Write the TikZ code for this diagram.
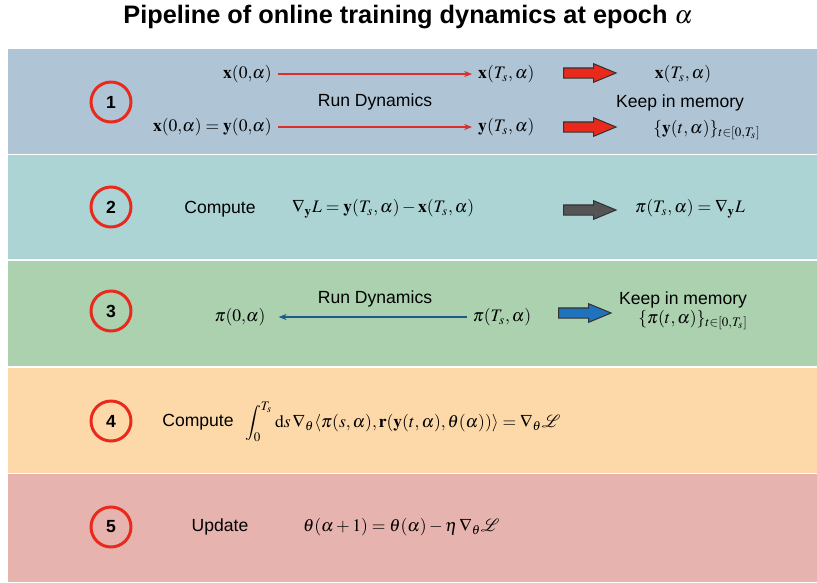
\documentclass[tikz,border=0pt]{standalone}
\usepackage{amsmath}
\usepackage{amssymb}
\usepackage{mathptmx}
\usepackage{mathrsfs}
\usepackage[no-math]{fontspec}
\setmainfont{Liberation Sans}
\usepackage{tikz}
\usetikzlibrary{shapes,arrows.meta,positioning}

\definecolor{bandA}{HTML}{AFC5D6}
\definecolor{bandB}{HTML}{ADD4D4}
\definecolor{bandC}{HTML}{ABD1AF}
\definecolor{bandD}{HTML}{FDD9A9}
\definecolor{bandE}{HTML}{E6B3AE}
\definecolor{stepred}{HTML}{E8291C}
\definecolor{flowred}{HTML}{D9302A}
\definecolor{flowblue}{HTML}{1C5A8C}
\definecolor{bigblue}{HTML}{1E72BE}
\definecolor{biggrey}{HTML}{555555}

\tikzset{
  stepnum/.style={circle, draw=stepred, line width=1.7pt, minimum size=0.8cm, inner sep=0pt, font=\bfseries},
  bigarrow/.style={single arrow, draw=black!80, line width=0.6pt, minimum height=1.05cm, inner xsep=0pt, inner ysep=0.09cm, single arrow head extend=0.085cm, single arrow tip angle=45, anchor=west},
  flow/.style={-{Stealth[length=4.5pt, width=3.5pt]}, line width=0.6pt}
}

\begin{document}
\begin{tikzpicture}[x=0.02cm, y=-0.02cm]
\useasboundingbox (0,0) rectangle (817,582);

\fill [bandA] (8,49) rectangle (817,154);
\fill [bandB] (8,155) rectangle (817,259);
\fill [bandC] (8,261) rectangle (817,366);
\fill [bandD] (8,368) rectangle (817,473);
\fill [bandE] (8,474) rectangle (817,582);

\node (title) at (408,17) {\Large\bfseries Pipeline of online training dynamics at epoch $\alpha$};

\node [stepnum] (s_a) at (111,102) {1};
\node [stepnum] (s_b) at (111,207) {2};
\node [stepnum] (s_c) at (111,311) {3};
\node [stepnum] (s_d) at (111,421) {4};
\node [stepnum] (s_e) at (111,527) {5};

\node [anchor=east] (x_0) at (278,74) {$\mathbf{x}(0{,}\alpha)$};
\node [anchor=west] (x_T) at (472,74) {$\mathbf{x}(T_s,\alpha)$};
\node [bigarrow, fill=stepred] (big_a) at (563,73) {};
\node (x_keep) at (683,74) {$\mathbf{x}(T_s,\alpha)$};
\node (run_a) at (375,102) {Run Dynamics};
\node (keep_a) at (680,103) {Keep in memory};
\node [anchor=east] (xy_0) at (278,127) {$\mathbf{x}(0{,}\alpha)=\mathbf{y}(0{,}\alpha)$};
\node [anchor=west] (y_T) at (472,127) {$\mathbf{y}(T_s,\alpha)$};
\node [bigarrow, fill=stepred] (big_b) at (563,127) {};
\node (y_keep) at (707,130) {$\{\mathbf{y}(t,\alpha)\}_{t\in[0,T_s]}$};
\draw [flow, flowred] (x_0) -- (x_T);
\draw [flow, flowred] (xy_0) -- (y_T);

\node (comp_b) at (220,209) {Compute};
\node [anchor=west] (grad_b) at (286,209) {$\nabla_{\mathbf{y}} L = \mathbf{y}(T_s,\alpha) - \mathbf{x}(T_s,\alpha)$};
\node [bigarrow, fill=biggrey] (big_c) at (563,210) {};
\node [anchor=west] (pi_T) at (629,209) {$\pi(T_s,\alpha) = \nabla_{\mathbf{y}} L$};

\node (run_c) at (375,299) {Run Dynamics};
\node (pi_0) at (240,317) {$\pi(0{,}\alpha)$};
\node (pi_Tc) at (502,317) {$\pi(T_s,\alpha)$};
\node [bigarrow, fill=bigblue] (big_d) at (558,313) {};
\node (keep_c) at (683,300) {Keep in memory};
\node (pi_keep) at (693,320) {$\{\pi(t,\alpha)\}_{t\in[0,T_s]}$};
\draw [flow, flowblue, shorten >=4pt] (pi_Tc) -- (pi_0);

\node (comp_d) at (198,422) {Compute};
\node [anchor=west] (int_d) at (239,422) {$\displaystyle\int_0^{T_s} \mathrm{d}s\, \nabla_\theta \langle \pi(s,\alpha), \mathbf{r}(\mathbf{y}(t,\alpha),\theta(\alpha))\rangle = \nabla_\theta \mathscr{L}$};

\node (upd_e) at (220,527) {Update};
\node [anchor=west] (rule_e) at (297,527) {$\theta(\alpha+1) = \theta(\alpha) - \eta\, \nabla_\theta \mathscr{L}$};
\end{tikzpicture}
\end{document}
